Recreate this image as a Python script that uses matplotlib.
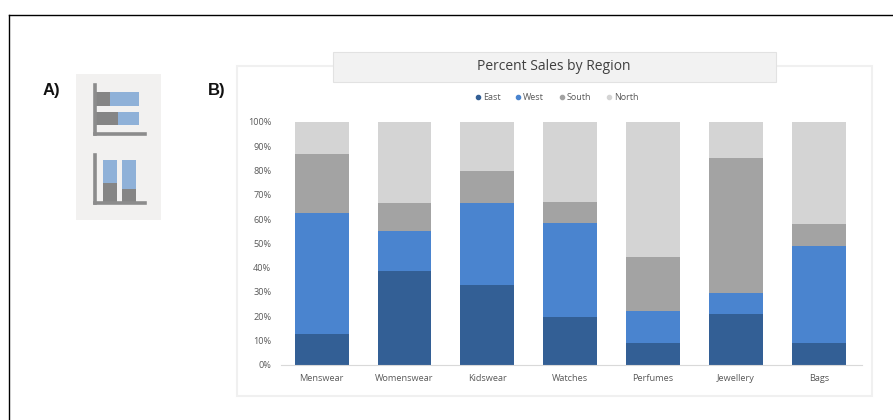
import numpy as np
import matplotlib
matplotlib.use("Agg")
import matplotlib.pyplot as plt
from matplotlib.lines import Line2D
from matplotlib.patches import Rectangle

W, H = 893, 420

categorias = ['Menswear', 'Womenswear', 'Kidswear', 'Watches', 'Perfumes', 'Jewellery', 'Bags']
regiones = ['East', 'West', 'South', 'North']
east = [12.5, 38.5, 33, 19.5, 9, 21, 9]
west = [50, 16.5, 33.5, 39, 13, 8.5, 40]
south = [24.5, 11.5, 13.5, 8.5, 22.5, 55.5, 9]
north = [13, 33.5, 20, 33, 55.5, 15, 42]
colores = ['#335f95', '#4a84cf', '#a3a3a3', '#d4d4d4']
ticks_y = list(range(0, 101, 10))

# iconos del panel A
icono_h_gris = [15, 23]
icono_h_azul = [28, 20]
icono_v_gris = [20, 14]
icono_v_azul = [22, 28]
GRIS_ICONO = '#858585'
AZUL_ICONO = '#8fb1d8'


def caja(x0, y0, x1, y1):
    # pasa pixeles de la imagen a [left, bottom, width, height] de la figura
    return [x0 / W, 1 - y1 / H, (x1 - x0) / W, (y1 - y0) / H]


def rect_px(fig, x0, y0, x1, y1, **kw):
    fig.add_artist(Rectangle((x0 / W, 1 - y1 / H), (x1 - x0) / W, (y1 - y0) / H,
                             transform=fig.transFigure, **kw))


def linea_px(fig, x0, y0, x1, y1):
    fig.add_artist(Line2D([x0 / W, x1 / W], [1 - y0 / H, 1 - y1 / H],
                          transform=fig.transFigure, color='#000000', linewidth=1.0))


fig = plt.figure(figsize=(W / 100, H / 100), dpi=100)
plt.rcParams['font.family'] = ['Open Sans', 'DejaVu Sans']

# marco exterior, solo arriba y a la izquierda
linea_px(fig, 8.5, 14.5, 893, 14.5)
linea_px(fig, 8.5, 14.5, 8.5, 420)

fig.text(43 / W, 1 - 90 / H, 'A)', fontsize=12, fontweight='bold',
         family='Liberation Sans', va='center', ha='left', color='#111111')
fig.text(207.5 / W, 1 - 90 / H, 'B)', fontsize=12, fontweight='bold',
         family='Liberation Sans', va='center', ha='left', color='#111111')

# panel A
rect_px(fig, 76, 74, 161, 220, facecolor='#f2f1f0', edgecolor='none')

ax_h = fig.add_axes(caja(95, 85, 145, 134), zorder=5)
ax_h.patch.set_alpha(0)
ax_h.barh([1, 0], icono_h_gris, height=0.7, color=GRIS_ICONO)
ax_h.barh([1, 0], icono_h_azul, left=icono_h_gris, height=0.7, color=AZUL_ICONO)
ax_h.set_xlim(0, 49)
ax_h.set_ylim(-0.8, 1.71)
ax_h.set_xticks([])
ax_h.set_yticks([])
ax_h.spines[['top', 'right']].set_visible(False)
ax_h.spines[['left', 'bottom']].set_linewidth(2.6)
ax_h.spines[['left', 'bottom']].set_color('#8c8c8c')

ax_v = fig.add_axes(caja(95, 155, 145, 203), zorder=5)
ax_v.patch.set_alpha(0)
ax_v.bar([0, 1], icono_v_gris, width=0.7, color=GRIS_ICONO)
ax_v.bar([0, 1], icono_v_azul, bottom=icono_v_gris, width=0.7, color=AZUL_ICONO)
ax_v.set_xlim(-0.74, 1.79)
ax_v.set_ylim(0, 47)
ax_v.set_xticks([])
ax_v.set_yticks([])
ax_v.spines[['top', 'right']].set_visible(False)
ax_v.spines[['left', 'bottom']].set_linewidth(2.6)
ax_v.spines[['left', 'bottom']].set_color('#8c8c8c')

# panel B
rect_px(fig, 237, 65.5, 871.5, 396, facecolor='white', edgecolor='#f0f0f0', linewidth=1.5)

ax = fig.add_axes(caja(281, 122, 862, 364.7), zorder=5)
ax.patch.set_alpha(0)
x = np.arange(len(categorias))
abajo = np.zeros(len(categorias))
for nombre, valores, color in zip(regiones, [east, west, south, north], colores):
    ax.bar(x, valores, width=0.65, bottom=abajo, color=color, label=nombre)
    abajo = abajo + np.array(valores)

ax.set_xlim(-0.49, 6.52)
ax.set_ylim(0, 100)
ax.set_xticks(x)
ax.set_xticklabels(categorias, fontsize=6.6, color='#595959')
ax.set_yticks(ticks_y)
ax.set_yticklabels([str(t) + '%' for t in ticks_y], fontsize=6.6, color='#595959')
ax.tick_params(axis='x', length=0, pad=7)
ax.tick_params(axis='y', length=0, pad=7)
ax.spines[['top', 'right', 'left']].set_visible(False)
ax.spines['bottom'].set_color('#d9d9d9')
ax.spines['bottom'].set_linewidth(0.8)

# leyenda con puntos redondos
marcas = [Line2D([], [], linestyle='none', marker='o', markersize=3, color=c) for c in colores]
leyenda = fig.legend(marcas, regiones, loc='center', ncol=4,
                     bbox_to_anchor=(557 / W, 1 - 97.5 / H), frameon=False, fontsize=6.5,
                     handlelength=0.5, handletextpad=0.3, columnspacing=1.7,
                     labelcolor='#595959')
leyenda.set_zorder(6)

# titulo con fondo gris
rect_px(fig, 333, 52, 776, 81.5, facecolor='#f2f2f2', edgecolor='#e2e2e2', linewidth=0.8)
fig.text(554 / W, 1 - 66.5 / H, 'Percent Sales by Region', fontsize=10,
         ha='center', va='center', color='#404040')

fig.savefig('out.png', dpi=100)
